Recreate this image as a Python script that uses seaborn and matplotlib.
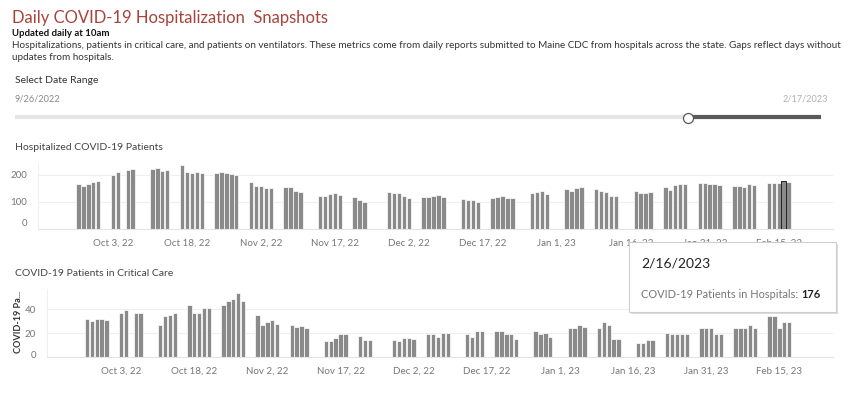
"""
Daily COVID-19 hospitalization snapshots (Maine CDC dashboard look-alike).
Two bar panels: hospitalized patients and patients in critical care.
"""

import matplotlib
matplotlib.use('Agg')
import matplotlib.pyplot as plt
import matplotlib.dates as mdates
import matplotlib.transforms as mtransforms
from matplotlib.patches import Rectangle
from matplotlib.lines import Line2D
import pandas as pd
import seaborn as sns

#####################################
## Data
#####################################

# weekday reports only, holidays / missing days left out
report_dates = [
    '2022-09-26', '2022-09-27', '2022-09-28', '2022-09-29', '2022-09-30',
    '2022-10-03', '2022-10-04', '2022-10-06', '2022-10-07',
    '2022-10-11', '2022-10-12', '2022-10-13', '2022-10-14',
    '2022-10-17', '2022-10-18', '2022-10-19', '2022-10-20', '2022-10-21',
    '2022-10-24', '2022-10-25', '2022-10-26', '2022-10-27', '2022-10-28',
    '2022-10-31', '2022-11-01', '2022-11-02', '2022-11-03', '2022-11-04',
    '2022-11-07', '2022-11-08', '2022-11-09', '2022-11-10',
    '2022-11-14', '2022-11-15', '2022-11-16', '2022-11-17', '2022-11-18',
    '2022-11-21', '2022-11-22', '2022-11-23',
    '2022-11-28', '2022-11-29', '2022-11-30', '2022-12-01', '2022-12-02',
    '2022-12-05', '2022-12-06', '2022-12-07', '2022-12-08', '2022-12-09',
    '2022-12-13', '2022-12-14', '2022-12-15', '2022-12-16',
    '2022-12-19', '2022-12-20', '2022-12-21', '2022-12-22', '2022-12-23',
    '2022-12-27', '2022-12-28', '2022-12-29', '2022-12-30',
    '2023-01-03', '2023-01-04', '2023-01-05', '2023-01-06',
    '2023-01-09', '2023-01-10', '2023-01-11', '2023-01-12', '2023-01-13',
    '2023-01-17', '2023-01-18', '2023-01-19', '2023-01-20',
    '2023-01-23', '2023-01-24', '2023-01-25', '2023-01-26', '2023-01-27',
    '2023-01-30', '2023-01-31', '2023-02-01', '2023-02-02', '2023-02-03',
    '2023-02-06', '2023-02-07', '2023-02-08', '2023-02-09', '2023-02-10',
    '2023-02-13', '2023-02-14', '2023-02-15', '2023-02-16', '2023-02-17',
]

hospitalized = [
    167, 159, 167, 173, 179,
    199, 210, 217, 222,
    221, 226, 215, 217,
    237, 211, 207, 211, 207,
    207, 211, 207, 204, 199,
    173, 159, 159, 153, 153,
    157, 157, 141, 136,
    122, 122, 130, 132, 126,
    119, 107, 98,
    136, 132, 132, 122, 114,
    119, 119, 122, 126, 119,
    112, 107, 107, 100,
    116, 119, 122, 116, 114,
    132, 136, 141, 130,
    148, 141, 151, 154,
    148, 141, 138, 122, 122,
    141, 132, 132, 136,
    154, 144, 164, 167, 167,
    170, 170, 167, 167, 163,
    159, 159, 154, 167, 163,
    170, 170, 170, 176, 173,
]

critical_care = [
    32, 30, 32, 32, 31,
    37, 39, 37, 37,
    27, 34, 35, 37,
    44, 37, 37, 41, 41,
    44, 47, 49, 54, 47,
    35, 27, 29, 31, 28,
    27, 25, 26, 24,
    13, 13, 16, 19, 19,
    18, 14, 14,
    14, 13, 16, 16, 15,
    19, 19, 17, 20, 20,
    19, 17, 22, 22,
    22, 22, 19, 19, 15,
    22, 19, 20, 17,
    24, 24, 27, 25,
    24, 29, 27, 15, 15,
    12, 12, 14, 14,
    20, 19, 19, 19, 19,
    24, 24, 24, 19, 19,
    24, 24, 24, 27, 24,
    34, 34, 24, 29, 29,
]

tick_dates = ['2022-10-03', '2022-10-18', '2022-11-02', '2022-11-17', '2022-12-02',
              '2022-12-17', '2023-01-01', '2023-01-16', '2023-01-31', '2023-02-15']
tick_labels = ['Oct 3, 22', 'Oct 18, 22', 'Nov 2, 22', 'Nov 17, 22', 'Dec 2, 22',
               'Dec 17, 22', 'Jan 1, 23', 'Jan 16, 23', 'Jan 31, 23', 'Feb 15, 23']

hosp_yticks = [0, 100, 200]
icu_yticks = [0, 20, 40]

highlight_date = '2023-02-16'
range_start_label = '9/26/2022'
range_end_label = '2/17/2023'

#####################################
## Styling
#####################################

sns.set_theme(style='white')
plt.rcParams['font.family'] = ['Lato', 'DejaVu Sans']

BAR_COLOR = '#8a8a8a'
TITLE_RED = '#a8433b'
TICK_GRAY = '#777777'
GRID_GRAY = '#efefef'
BAR_DAYS = 0.9  # bar width in days (white edge eats a little of it)

W, H = 854, 399


def fx(px):
    return px / W


def fy(py):
    return 1 - py / H


df = pd.DataFrame({
    'date': pd.to_datetime(report_dates),
    'hospitalized': hospitalized,
    'critical_care': critical_care,
})
df['x'] = mdates.date2num(df['date'])

start_num = mdates.date2num(pd.Timestamp('2022-09-26'))
x_lo, x_hi = start_num - 8.2, start_num + 153
tick_nums = mdates.date2num(pd.to_datetime(tick_dates))

fig = plt.figure(figsize=(W / 100, H / 100), dpi=100)

# Axes boxes in pixels (left, top, right, bottom)
ax1 = fig.add_axes([fx(38), fy(229), fx(833) - fx(38), (229 - 163) / H])
ax2 = fig.add_axes([fx(47), fy(357), fx(833) - fx(47), (357 - 289) / H])


def style_panel(ax, col, ylim, yticks, zero_shift, ypad):
    sns.barplot(data=df, x='x', y=col, native_scale=True, width=0.85,
                color=BAR_COLOR, saturation=1, errorbar=None, ax=ax)
    # make every bar a fixed fraction of a day wide, centred on its date
    for p in ax.patches:
        center = p.get_x() + p.get_width() / 2
        p.set_width(BAR_DAYS)
        p.set_x(center - BAR_DAYS / 2)
        p.set_edgecolor('white')
        p.set_linewidth(0.5)
    ax.set_xlim(x_lo, x_hi)
    ax.set_ylim(*ylim)
    ax.set_xticks(tick_nums)
    ax.set_xticklabels(tick_labels)
    ax.set_yticks(yticks)
    ax.set_yticklabels([str(v) for v in yticks])
    ax.set_xlabel('')
    ax.set_ylabel('')
    for v in yticks[1:]:
        ax.axhline(v, color=GRID_GRAY, lw=0.8, zorder=0)
    for side in ['top', 'right']:
        ax.spines[side].set_visible(False)
    ax.spines['bottom'].set_color('#e4e4e4')
    ax.spines['left'].set_color('#f0f0f0')
    ax.spines['bottom'].set_linewidth(0.8)
    ax.spines['left'].set_linewidth(0.8)
    ax.tick_params(axis='x', length=3, color='#e4e4e4', labelsize=7,
                   labelcolor=TICK_GRAY, pad=4)
    ax.tick_params(axis='y', length=0, labelsize=7, labelcolor=TICK_GRAY, pad=ypad)
    # bottom label sits a little above the baseline, like the dashboard
    lab0 = ax.get_yticklabels()[0]
    lab0.set_transform(lab0.get_transform() +
                       mtransforms.ScaledTranslation(0, zero_shift / 72, fig.dpi_scale_trans))


style_panel(ax1, 'hospitalized', (0, 244), hosp_yticks, 5, 8)
style_panel(ax2, 'critical_care', (0, 57), icu_yticks, 2, 8)

# outline the hovered bar (thin dark frame, grey inside)
hi_idx = report_dates.index(highlight_date)
bar = ax1.patches[hi_idx]
hi_center = bar.get_x() + bar.get_width() / 2
bar.set_width(1.1)
bar.set_x(hi_center - 0.55)
bar.set_edgecolor('#222222')
bar.set_linewidth(0.7)
bar.set_zorder(5)

#####################################
## Header texts
#####################################

fig.text(fx(12), fy(18), 'Daily COVID-19 Hospitalization  Snapshots',
         fontsize=12, color=TITLE_RED, va='center', ha='left')
fig.text(fx(12), fy(34), 'Updated daily at 10am', fontsize=6.9, fontweight='bold',
         color='#111111', va='center', ha='left')
fig.text(fx(12), fy(45.5),
         'Hospitalizations, patients in critical care, and patients on ventilators. '
         'These metrics come from daily reports submitted to Maine CDC from hospitals '
         'across the state. Gaps reflect days without',
         fontsize=7.15, color='#333333', va='center', ha='left')
fig.text(fx(12), fy(58), 'updates from hospitals.', fontsize=7.15, color='#333333',
         va='center', ha='left')

fig.text(fx(15), fy(80.5), 'Select Date Range', fontsize=7.5, color='#333333',
         va='center', ha='left')
fig.text(fx(15), fy(99.5), range_start_label, fontsize=6.6, color='#888888',
         va='center', ha='left')
fig.text(fx(828), fy(99.5), range_end_label, fontsize=6.6, color='#b0b0b0',
         va='center', ha='right')

# date range slider
fig.add_artist(Line2D([fx(15), fx(686)], [fy(117), fy(117)], color='#e6e6e6',
                      lw=3, solid_capstyle='butt'))
fig.add_artist(Line2D([fx(690), fx(821)], [fy(117), fy(117)], color='#5a5a5a',
                      lw=3, solid_capstyle='butt'))
fig.add_artist(Line2D([fx(688.5)], [fy(117.5)], marker='o', markersize=7.2,
                      markerfacecolor='white', markeredgecolor='#5a5a5a',
                      markeredgewidth=0.9, linestyle='none'))

fig.text(fx(15), fy(147), 'Hospitalized COVID-19 Patients', fontsize=7.5,
         color='#444444', va='center', ha='left')
fig.text(fx(15), fy(273), 'COVID-19 Patients in Critical Care', fontsize=7.5,
         color='#444444', va='center', ha='left')
fig.text(fx(19), fy(322), 'COVID-19 Pa...', fontsize=6.6, fontweight='bold',
         color='#333333', rotation=90, va='center', ha='center')

#####################################
## Tooltip
#####################################

fig.add_artist(Rectangle((fx(631), fy(314)), fx(836) - fx(629), (312 - 242) / H,
                         transform=fig.transFigure, facecolor='#dcdcdc',
                         edgecolor='none', zorder=10))
fig.add_artist(Rectangle((fx(629), fy(312)), fx(836) - fx(629), (312 - 242) / H,
                         transform=fig.transFigure, facecolor='white',
                         edgecolor='#cfcfcf', lw=0.8, zorder=11))
fig.text(fx(641), fy(263), '2/16/2023', fontsize=10, color='#222222',
         va='center', ha='left', zorder=12)
tip_label = fig.text(fx(641), fy(294), 'COVID-19 Patients in Hospitals: ', fontsize=7.9,
                     color='#777777', va='center', ha='left', zorder=12)
renderer = fig.canvas.get_renderer()
label_right = tip_label.get_window_extent(renderer).x1
fig.text(label_right / fig.bbox.width, fy(294), str(hospitalized[hi_idx]), fontsize=7.9,
         fontweight='bold', color='#222222', va='center', ha='left', zorder=12)

plt.savefig('out.png', dpi=100)
